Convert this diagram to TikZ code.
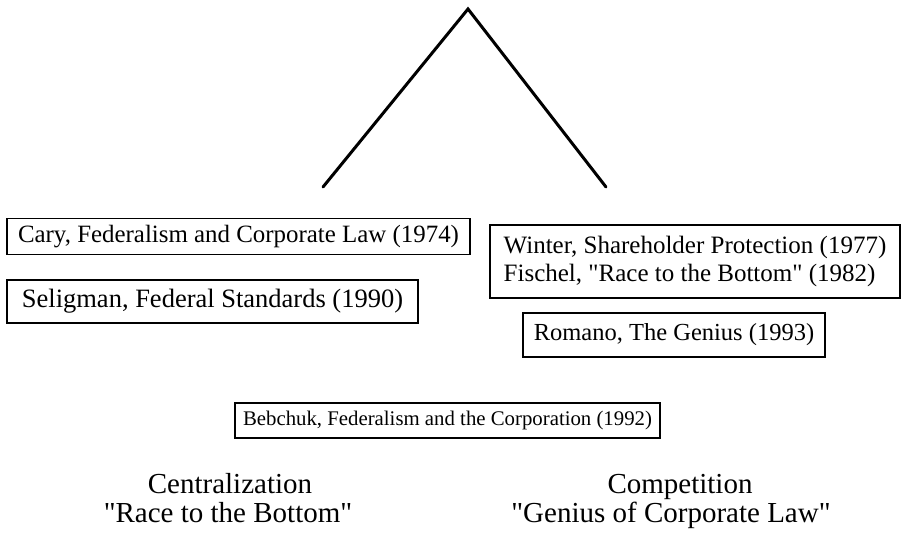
\documentclass[tikz,border=0pt]{standalone}
\usepackage{fontspec}
\newfontfamily\refont{Liberation Serif}
\begin{document}
\begin{tikzpicture}[x=1pt,y=-1pt,
  refbox/.style={draw,line width=1.6pt,inner sep=0pt,align=center},
  branch/.style={line width=3pt,line cap=round,line join=miter},
  caption/.style={inner sep=0pt,align=center,font=\refont\fontsize{29}{30}\selectfont}]
\useasboundingbox (0,0) rectangle (903,534);
% tree
\coordinate (apex) at (468,9);
\coordinate (lend) at (323,187);
\coordinate (rend) at (606,187);
\draw[branch] (lend) -- (apex) -- (rend);
% boxes
\node[refbox,minimum width=463pt,minimum height=36pt,font=\refont\fontsize{24.9}{28}\selectfont] (cary) at (238.5,236.5) {Cary, Federalism and Corporate Law (1974)};
\node[refbox,minimum width=411pt,minimum height=43pt,font=\refont\fontsize{26.5}{28}\selectfont] (selig) at (212.5,301.5) {Seligman, Federal Standards (1990)};
\node[refbox,minimum width=410pt,minimum height=73pt,align=left,font=\refont\fontsize{25}{28}\selectfont] (winter) at (695,261.5) {Winter, Shareholder Protection (1977)\\Fischel, "Race to the Bottom" (1982)};
\node[refbox,minimum width=302pt,minimum height=44pt,font=\refont\fontsize{24.5}{28}\selectfont] (romano) at (674,335) {Romano, The Genius (1993)};
\node[refbox,minimum width=425pt,minimum height=35pt,font=\refont\fontsize{20.8}{24}\selectfont] (bebchuk) at (447.5,420.5) {Bebchuk, Federalism and the Corporation (1992)};
% captions
\node[caption,anchor=base] (cent) at (230,494) {Centralization};
\node[caption,anchor=base] (race) at (228,523) {"Race to the Bottom"};
\node[caption,anchor=base] (comp) at (680,494) {Competition};
\node[caption,anchor=base] (genius) at (671,523) {"Genius of Corporate Law"};
\end{tikzpicture}
\end{document}
